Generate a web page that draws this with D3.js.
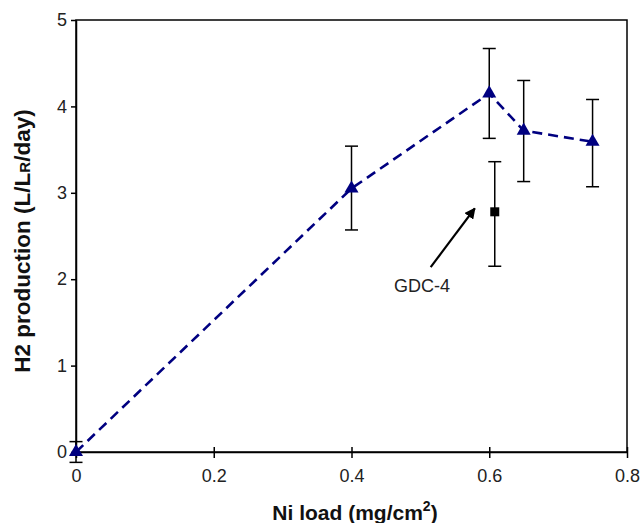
<!DOCTYPE html>
<html>
<head>
<meta charset="utf-8">
<script src="https://cdn.jsdelivr.net/npm/d3@7"></script>
<style>
  html, body { margin: 0; padding: 0; background: #fff; }
  svg { display: block; font-family: Arial, "Liberation Sans", sans-serif; }
</style>
</head>
<body>
<svg id="chart" width="640" height="523"></svg>
<script>
// Ni load vs H2 production, triangles joined by dashed line + GDC-4 point

const niLoad   = [0, 0.4, 0.6, 0.65, 0.75];
const h2Prod   = [0, 3.05, 4.15, 3.72, 3.59];
const errLow   = [-0.12, 2.57, 3.63, 3.13, 3.07];
const errHigh  = [0.12, 3.54, 4.67, 4.30, 4.08];

const gdcX     = [0.608];
const gdcY     = [2.78];
const gdcLow   = [2.15];
const gdcHigh  = [3.36];

const xTicks = [0, 0.2, 0.4, 0.6, 0.8];
const yTicks = [0, 1, 2, 3, 4, 5];

const margin = { left: 76, right: 13, top: 20, bottom: 71 };
const W = 640, H = 523;
const FONT = 'Arial, "Liberation Sans", sans-serif';

const svg = d3.select('#chart');

const x = d3.scaleLinear().domain([0, 0.8]).range([margin.left, W - margin.right]);
const y = d3.scaleLinear().domain([0, 5]).range([H - margin.bottom, margin.top]);

const NAVY = '#000080';

// ── Frame ────────────────────────────────────────────────────────────────
svg.append('rect')
    .attr('x', x(0)).attr('y', y(5))
    .attr('width', x(0.8) - x(0)).attr('height', y(0) - y(5))
    .attr('fill', 'none').attr('stroke', '#000').attr('stroke-width', 1.5);

// ── Axes ─────────────────────────────────────────────────────────────────
const xAxis = d3.axisBottom(x).tickValues(xTicks)
    .tickFormat(d => d === 0 ? '0' : d3.format('.1f')(d))
    .tickSize(6).tickSizeOuter(0).tickPadding(11);

const xG = svg.append('g')
    .attr('transform', `translate(0,${y(0)})`)
    .call(xAxis);
xG.select('.domain').attr('stroke', '#000').attr('stroke-width', 1.5);
xG.selectAll('.tick line').attr('stroke', '#000').attr('stroke-width', 1.5).attr('y1', -5);
xG.selectAll('.tick text').attr('font-size', '18px').attr('fill', '#222').attr('font-family', FONT);

const yAxis = d3.axisLeft(y).tickValues(yTicks)
    .tickFormat(d3.format('d'))
    .tickSizeInner(5).tickSizeOuter(0).tickPadding(4);

const yG = svg.append('g')
    .attr('transform', `translate(${x(0)},0)`)
    .call(yAxis);
yG.select('.domain').attr('stroke', '#000').attr('stroke-width', 1.5);
yG.selectAll('.tick line').attr('stroke', '#000').attr('stroke-width', 1.5);
yG.selectAll('.tick text').attr('font-size', '18px').attr('fill', '#222').attr('font-family', FONT);

// ── Axis titles ──────────────────────────────────────────────────────────
const xTitle = svg.append('text')
    .attr('x', 355).attr('y', 520)
    .attr('text-anchor', 'middle')
    .attr('font-size', '21px').attr('font-weight', 'bold').attr('fill', '#111');
xTitle.append('tspan').text('Ni load (mg/cm');
xTitle.append('tspan').attr('dy', -9).attr('font-size', '14px').text('2');
xTitle.append('tspan').attr('dy', 9).text(')');

const yTitle = svg.append('text')
    .attr('transform', `translate(30,241) rotate(-90)`)
    .attr('text-anchor', 'middle')
    .attr('font-size', '22.5px').attr('font-weight', 'bold').attr('fill', '#111');
yTitle.append('tspan').text('H2 production (L/L');
yTitle.append('tspan').attr('font-size', '15px').text('R');
yTitle.append('tspan').text('/day)');

// ── Error bars ───────────────────────────────────────────────────────────
const capW = 6.5;
function errorBars(xs, lo, hi) {
    const g = svg.append('g').attr('stroke', '#000').attr('stroke-width', 1.5);
    xs.forEach((xv, i) => {
        g.append('line').attr('x1', x(xv)).attr('x2', x(xv)).attr('y1', y(lo[i])).attr('y2', y(hi[i]));
        g.append('line').attr('x1', x(xv) - capW).attr('x2', x(xv) + capW).attr('y1', y(lo[i])).attr('y2', y(lo[i]));
        g.append('line').attr('x1', x(xv) - capW).attr('x2', x(xv) + capW).attr('y1', y(hi[i])).attr('y2', y(hi[i]));
    });
}
errorBars(niLoad, errLow, errHigh);
errorBars(gdcX, gdcLow, gdcHigh);

// ── Dashed line ──────────────────────────────────────────────────────────
const line = d3.line().x(d => x(d[0])).y(d => y(d[1]));
svg.append('path')
    .datum(niLoad.map((d, i) => [d, h2Prod[i]]))
    .attr('d', line)
    .attr('fill', 'none')
    .attr('stroke', NAVY)
    .attr('stroke-width', 2.6)
    .attr('stroke-dasharray', '10,6');

// ── Triangle markers ─────────────────────────────────────────────────────
const tri = d3.symbol().type(d3.symbolTriangle).size(85);
svg.selectAll('.tri')
    .data(niLoad.map((d, i) => [d, h2Prod[i]]))
    .join('path')
    .attr('class', 'tri')
    .attr('d', tri)
    .attr('transform', d => `translate(${x(d[0])},${y(d[1])})`)
    .attr('fill', NAVY);

// ── GDC-4 square ─────────────────────────────────────────────────────────
svg.selectAll('.sq')
    .data(gdcX.map((d, i) => [d, gdcY[i]]))
    .join('rect')
    .attr('class', 'sq')
    .attr('x', d => x(d[0]) - 4.5).attr('y', d => y(d[1]) - 4.5)
    .attr('width', 9).attr('height', 9)
    .attr('fill', '#000');

// ── Annotation ───────────────────────────────────────────────────────────
svg.append('defs').append('marker')
    .attr('id', 'arrow').attr('viewBox', '0 0 10 10')
    .attr('refX', 9).attr('refY', 5)
    .attr('markerWidth', 5).attr('markerHeight', 5)
    .attr('orient', 'auto')
    .append('path').attr('d', 'M0,0 L10,5 L0,10 z').attr('fill', '#000');

const arrowFrom = [0.515, 2.14];
const arrowTo   = [0.579, 2.82];
svg.append('line')
    .attr('x1', x(arrowFrom[0])).attr('y1', y(arrowFrom[1]))
    .attr('x2', x(arrowTo[0])).attr('y2', y(arrowTo[1]))
    .attr('stroke', '#000').attr('stroke-width', 2.2)
    .attr('marker-end', 'url(#arrow)');

svg.append('text')
    .attr('x', x(0.5025)).attr('y', y(1.85))
    .attr('text-anchor', 'middle')
    .attr('font-size', '18px').attr('fill', '#222')
    .text('GDC-4');
</script>
</body>
</html>
